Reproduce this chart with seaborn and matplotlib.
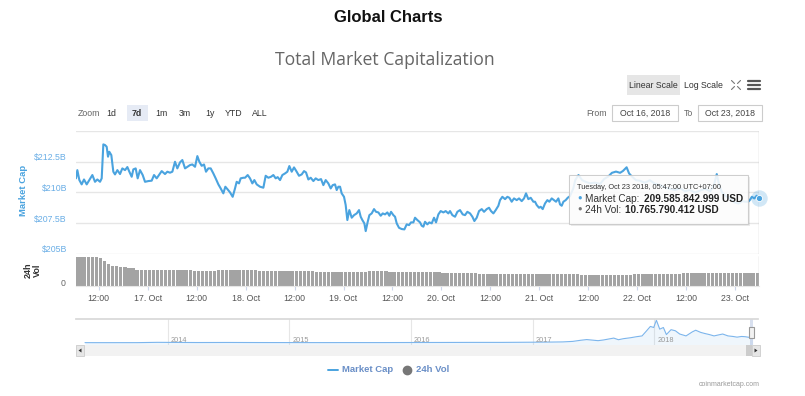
import matplotlib
matplotlib.use("Agg")
import matplotlib.pyplot as plt
import matplotlib.dates as mdates
import matplotlib.transforms as mtransforms
from matplotlib import font_manager
from matplotlib.patches import Rectangle, Polygon
from matplotlib.lines import Line2D
from matplotlib.text import Annotation
import pandas as pd
import seaborn as sns

# ==========================================
# DATA
# ==========================================
START = pd.Timestamp("2018-10-16 00:00")

# market cap: hours after Oct 16 00:00 -> billions USD
cap_hours = [
    6.42, 6.75, 7.24, 7.81, 8.38, 9.04, 9.69, 10.43, 11.08, 11.65,
    12.31, 12.72, 13.12, 13.53, 13.94, 14.27, 14.59, 15.08, 15.57, 15.98,
    16.56, 17.21, 17.78, 18.44, 19.01, 19.50, 20.07, 20.48, 21.05, 21.54,
    22.11, 22.77, 23.34, 24.16, 24.97, 25.55, 26.20, 26.77, 27.43, 28.24,
    28.81, 29.47, 30.04, 30.69, 31.26, 31.92, 32.49, 33.15, 33.72, 34.37,
    34.94, 35.60, 36.17, 36.66, 37.23, 37.80, 38.29, 38.87, 39.44, 40.09,
    40.66, 41.32, 41.89, 42.54, 43.03, 43.52, 44.18, 44.83, 45.40, 45.81,
    46.38, 46.79, 47.45,
    47.86, 48.51, 49.08, 49.65, 50.14, 50.72, 51.53, 52.35, 52.92, 53.57,
    54.23, 54.80, 55.37, 55.86, 56.44, 57.01, 57.66, 58.23, 58.72, 59.30,
    59.87, 60.52, 61.09, 61.75, 62.32, 62.81, 63.38, 63.96, 64.61, 65.18,
    65.83, 66.49, 67.06, 67.63, 68.28, 68.86, 69.35, 69.92, 70.33, 70.74,
    71.15, 71.55, 72.12, 72.53, 72.94, 73.43, 74.01, 74.58, 75.23, 75.80,
    76.21, 76.62, 77.11, 77.44, 77.93, 78.34, 78.91, 79.48, 79.97, 80.54,
    81.12, 81.61, 82.18, 82.75, 83.24, 83.65, 84.22, 84.63, 85.04, 85.61,
    86.26, 86.92, 87.49, 88.06, 88.55, 89.13, 89.53, 90.10,
    90.76, 91.17, 91.58, 91.98, 92.55, 93.04, 93.62, 94.19, 94.68, 95.25,
    95.82, 96.48, 97.05, 97.70, 98.11, 98.68, 99.34, 99.91, 100.56, 101.22,
    101.79, 102.36, 103.02, 103.59, 104.08, 104.65, 105.22, 105.88, 106.45, 107.10,
    107.67, 108.16, 108.74, 109.31, 109.96, 110.37, 110.94, 111.60, 112.17, 112.66,
    113.23, 113.80, 114.46, 115.03, 115.68, 116.25, 116.74, 117.31, 117.89, 118.54,
    118.95, 119.36, 119.93, 120.34, 120.83, 121.40, 121.97, 122.46, 123.04, 123.61,
    124.10, 124.67, 125.08, 125.49, 125.90, 126.47, 126.96,
    127.5, 128.3, 128.8, 129.6, 130.5, 131.5, 132.4, 133.6, 134.9, 135.9,
    136.9, 137.8, 138.8, 139.8, 140.5, 141.4, 142.0, 142.7, 143.7, 144.7,
    145.9, 147.1, 148.4, 149.6, 150.8, 152.0, 153.3, 154.5, 155.7, 156.9,
    158.2, 159.4, 160.6, 161.9, 162.8, 163.5, 164.1, 164.8, 165.8, 166.8,
    167.8, 168.8, 169.8, 170.4, 171.2, 171.6, 172.1, 172.7, 173.3, 173.78,
]
cap_values = [
    211.15, 211.82, 211.01, 210.66, 211.06, 210.66, 211.01, 211.42, 210.87, 211.06,
    210.87, 211.15, 213.91, 213.86, 213.72, 212.91, 213.31, 213.04, 211.69, 211.47,
    211.82, 211.50, 211.96, 211.82, 212.07, 211.69, 211.28, 211.88, 211.96, 211.15,
    211.82, 211.42, 210.87, 210.93, 210.96, 211.42, 211.15, 211.42, 211.74, 211.50,
    211.69, 211.61, 211.69, 212.50, 211.96, 212.45, 212.64, 211.96, 212.09, 212.23,
    212.28, 212.09, 212.96, 212.50, 212.17, 212.28, 211.69, 211.96, 211.96, 211.55,
    211.15, 210.66, 210.33, 209.93, 210.47, 210.28, 210.01, 209.65, 210.33, 210.87,
    210.74, 211.15, 211.20,
    211.20, 211.42, 211.15, 210.74, 211.01, 210.66, 210.47, 210.39, 211.36, 211.20,
    211.28, 211.42, 211.15, 211.25, 211.01, 211.42, 211.55, 211.69, 212.15, 211.69,
    212.04, 211.69, 211.36, 211.47, 211.74, 211.63, 211.06, 211.20, 210.93, 211.15,
    211.01, 211.09, 210.60, 211.01, 210.74, 210.33, 210.60, 210.66, 210.20, 210.47,
    210.47, 209.93, 209.65, 208.98, 207.76, 208.57, 207.95, 208.16, 208.30, 208.57,
    208.03, 207.76, 207.49, 206.86, 207.62, 208.16, 208.30, 208.65, 208.43, 208.38,
    208.11, 208.30, 208.22, 208.38, 208.11, 208.43, 208.16, 208.03, 207.49, 207.13,
    207.03, 207.00, 207.41, 207.35, 207.57, 207.57, 207.95, 207.76,
    207.57, 207.30, 207.22, 207.62, 207.41, 207.57, 207.49, 207.95, 207.57, 208.22,
    208.49, 208.38, 208.49, 208.30, 208.49, 208.16, 208.03, 208.43, 208.57, 208.22,
    208.16, 208.43, 208.30, 208.03, 207.68, 207.95, 208.49, 208.65, 208.43, 208.65,
    208.76, 208.49, 208.30, 208.57, 208.92, 209.38, 209.65, 209.46, 209.65, 209.57,
    209.25, 209.52, 209.38, 209.52, 209.30, 209.52, 209.93, 209.46, 209.57, 209.25,
    209.25, 208.98, 208.76, 208.84, 208.65, 209.11, 209.38, 209.25, 209.52, 209.38,
    209.25, 209.52, 209.03, 208.92, 209.25, 209.38, 209.57,
    209.70, 210.30, 211.00, 211.42, 211.00, 210.85, 210.75, 210.80, 210.70, 211.10,
    211.30, 211.60, 211.70, 211.60, 211.75, 212.05, 211.55, 211.30, 211.00, 210.95,
    210.80, 211.00, 210.70, 210.60, 210.40, 210.30, 210.20, 210.35, 210.10, 210.20,
    210.00, 210.15, 210.30, 210.10, 210.60, 211.50, 210.60, 210.00, 209.70, 209.50,
    209.20, 209.10, 209.30, 209.25, 209.25, 209.38, 209.65, 209.52, 209.74, 209.59,
]

# 24h volume bars, one per hour (billions USD)
vol_hours = list(range(6, 174))
vol_values = [
    23.5, 23.5, 23.4, 23.5, 23.4, 23.3, 23.0, 20.5, 17.8, 16.6, 16.0, 15.5,
    15.1, 14.8, 14.5, 13.0, 12.8, 12.7, 12.7, 12.6, 12.7, 12.7, 12.8, 12.7,
    12.6, 12.6, 12.7, 12.7, 12.6, 12.5, 11.9, 11.9, 11.9, 11.9, 11.9, 12.6,
    12.7, 12.7, 12.8, 12.8, 12.7, 12.7, 12.6, 12.6, 12.6, 12.5, 12.5, 12.4,
    12.4, 12.3, 12.2, 12.1, 12.2, 12.1, 12.0, 12.0, 11.9, 11.8, 11.8, 11.4,
    11.4, 11.3, 11.3, 11.4, 11.3, 11.3, 11.2, 11.3, 11.3, 11.4, 11.3, 11.3,
    11.9, 11.9, 11.9, 11.8, 11.9, 11.3, 11.3, 11.3, 11.2, 11.3, 11.3, 11.3,
    11.3, 11.2, 11.3, 11.3, 11.3, 11.3, 10.8, 10.8, 10.8, 10.8, 10.8, 10.8,
    10.8, 10.8, 10.8, 10.1, 10.1, 10.1, 10.0, 10.1, 10.1, 10.1, 10.0, 10.1,
    10.1, 10.1, 10.0, 10.0, 10.0, 10.0, 10.0, 10.0, 10.0, 10.0, 10.0, 10.0,
    10.0, 10.0, 10.0, 10.0, 9.3, 9.3, 9.3, 9.3, 9.3, 9.3, 9.3, 9.3,
    9.3, 9.3, 9.3, 9.3, 9.3, 9.4, 9.4, 9.4, 9.4, 9.4, 9.4, 9.4,
    9.4, 9.4, 9.4, 9.4, 9.4, 10.6, 10.6, 10.7, 10.7, 10.6, 10.7, 10.7,
    10.8, 10.8, 10.7, 10.7, 10.8, 10.8, 10.8, 10.7, 10.8, 10.8, 10.8, 10.77,
]

# navigator: whole history of total market cap (billions USD)
nav_dates = [
    "2013-04-28", "2013-07-01", "2013-10-01", "2013-12-01", "2014-01-01",
    "2014-04-01", "2014-07-01", "2014-10-01", "2015-01-01", "2015-04-01",
    "2015-07-01", "2015-10-01", "2016-01-01", "2016-04-01", "2016-07-01",
    "2016-10-01", "2017-01-01", "2017-03-01", "2017-04-01", "2017-05-01",
    "2017-05-25", "2017-06-12", "2017-07-16", "2017-08-01", "2017-09-01",
    "2017-09-15", "2017-10-01", "2017-10-20", "2017-11-08", "2017-11-25",
    "2017-12-08", "2017-12-20", "2017-12-30", "2018-01-07", "2018-01-17",
    "2018-01-28", "2018-02-06", "2018-02-20", "2018-03-05", "2018-03-18",
    "2018-04-06", "2018-04-25", "2018-05-05", "2018-05-20", "2018-06-01",
    "2018-06-15", "2018-06-29", "2018-07-10", "2018-07-25", "2018-08-10",
    "2018-08-25", "2018-09-06", "2018-09-20", "2018-10-01", "2018-10-11",
    "2018-10-23",
]
nav_values = [
    1.5, 1.1, 2.0, 13, 11,
    6, 8.5, 5.5, 4.5, 3.5,
    4.5, 4.2, 7, 8.5, 11,
    11, 18, 24, 29, 48,
    90, 115, 75, 100, 170,
    110, 150, 180, 220, 250,
    430, 600, 560, 830, 500,
    560, 300, 480, 440, 320,
    250, 400, 460, 380, 340,
    300, 250, 280, 320, 250,
    230, 205, 230, 220, 200,
    210,
]

price_ticks = [205, 207.5, 210, 212.5, 215]
price_labels = ["$205B", "$207.5B", "$210B", "$212.5B", ""]
nav_years = [2014, 2015, 2016, 2017, 2018]
zoom_buttons = ["1d", "7d", "1m", "3m", "1y", "YTD", "ALL"]
zoom_button_x = [111, 137, 161, 185, 210, 234, 260]
tooltip_title = "Tuesday, Oct 23 2018, 05:47:00 UTC+07:00"
tooltip_cap = "209.585.842.999 USD"
tooltip_vol = "10.765.790.412 USD"

# ==========================================
# STYLE
# ==========================================
W, H = 805, 396
BLUE = "#4aa3df"
LABEL_BLUE = "#6aaee6"
GRID = "#e6e6e6"

sns.set_theme(style="white")
names = {f.name for f in font_manager.fontManager.ttflist}
NARROW = "Liberation Sans Narrow" if "Liberation Sans Narrow" in names else "Liberation Sans"
plt.rcParams["font.family"] = [NARROW, "DejaVu Sans"]


def frect(x0, y0, x1, y1):
    """pixel box (top-left origin) -> figure fraction rect"""
    return [x0 / W, 1 - y1 / H, (x1 - x0) / W, (y1 - y0) / H]


def fpt(x, y):
    return x / W, 1 - y / H


fig = plt.figure(figsize=(W / 100, H / 100), dpi=100)
fig.patch.set_facecolor("white")

# ==========================================
# HEADER
# ==========================================
fig.text(*fpt(388, 17), "Global Charts", ha="center", va="center",
         fontsize=12, fontweight="bold", color="#111111", family="Liberation Sans")
fig.text(*fpt(385, 60), "Total Market Capitalization", ha="center", va="center",
         fontsize=12.7, color="#666666", family="Open Sans")

fig.patches.append(Rectangle(fpt(627, 95), 53 / W, 20 / H, transform=fig.transFigure,
                             fc="#e6e6e6", ec="none"))
fig.text(*fpt(653, 85), "Linear Scale", ha="center", va="center", fontsize=6.3, color="#333333")
fig.text(*fpt(703, 85), "Log Scale", ha="center", va="center", fontsize=6.3, color="#333333")
for dx, dy in [(-1, -1), (1, -1), (-1, 1), (1, 1)]:
    fig.lines.append(Line2D([(736 + 1.5 * dx) / W, (736 + 4.5 * dx) / W],
                            [1 - (85 + 1.5 * dy) / H, 1 - (85 + 4.5 * dy) / H],
                            transform=fig.transFigure, color="#777777", lw=0.8))
for yy in [81, 85, 89]:
    fig.lines.append(Line2D([748 / W, 760 / W], [1 - yy / H, 1 - yy / H],
                            transform=fig.transFigure, color="#555555", lw=1.6))

fig.text(*fpt(78, 113), "Zoom", ha="left", va="center", fontsize=6.3, color="#666666")
fig.patches.append(Rectangle(fpt(127, 121), 21 / W, 16 / H, transform=fig.transFigure,
                             fc="#e6ebf5", ec="none"))
for lab, bx in zip(zoom_buttons, zoom_button_x):
    fig.text(*fpt(bx, 113), lab, ha="center", va="center", fontsize=6.3, color="#333333",
             fontweight="bold" if lab == "7d" else "normal")

fig.text(*fpt(607, 113), "From", ha="right", va="center", fontsize=6.3, color="#666666")
fig.text(*fpt(684, 113), "To", ha="left", va="center", fontsize=6.3, color="#666666")
for x0, x1, lab in [(612, 678, "Oct 16, 2018"), (698, 762, "Oct 23, 2018")]:
    fig.patches.append(Rectangle(fpt(x0, 121), (x1 - x0) / W, 16 / H, transform=fig.transFigure,
                                 fc="white", ec="#cccccc", lw=0.8))
    fig.text(*fpt((x0 + x1) / 2, 113), lab, ha="center", va="center", fontsize=6.3, color="#444444")

# ==========================================
# PRICE PANE
# ==========================================
cap = pd.DataFrame({"time": START + pd.to_timedelta(cap_hours, unit="h"), "cap": cap_values})
t0 = mdates.date2num(cap["time"].iloc[0])
t1 = mdates.date2num(cap["time"].iloc[-1])

ax = fig.add_axes(frect(76, 131, 758.7, 254))
sns.lineplot(data=cap, x="time", y="cap", ax=ax, color=BLUE, linewidth=1.5)
ax.set_xlim(t0, t1)
ax.set_ylim(205, 215)
ax.set_yticks(price_ticks)
ax.set_yticklabels([])
ax.set_xticks([])
ax.tick_params(length=0)
ax.grid(axis="y", color=GRID, lw=1)
ax.set_xlabel("")
ax.set_ylabel("")
for s in ax.spines.values():
    s.set_visible(False)

lab_tr = mtransforms.offset_copy(ax.get_yaxis_transform(), fig=fig, x=-9, y=4, units="dots")
for v, lab in zip(price_ticks, price_labels):
    ax.text(0, v, lab, transform=lab_tr, ha="right", va="center", fontsize=6.3, color=LABEL_BLUE)

fig.text(*fpt(23, 190), "Market Cap", rotation=90, ha="center", va="center",
         fontsize=6.8, fontweight="bold", color=BLUE)

# crosshair + hovered point
ax.axvline(t1, color="#cccccc", lw=1)
ax.scatter([t1], [cap_values[-1]], s=140, color=BLUE, alpha=0.25, lw=0, zorder=5, clip_on=False)
ax.scatter([t1], [cap_values[-1]], s=20, color=BLUE, lw=0.6, edgecolor="white", zorder=6, clip_on=False)

# ==========================================
# VOLUME PANE
# ==========================================
vol_times = mdates.date2num(START + pd.to_timedelta(vol_hours, unit="h"))
axv = fig.add_axes(frect(76, 256, 758.7, 286))
axv.bar(vol_times, vol_values, width=0.8 / 24, align="edge", color="#a3a3a3", linewidth=0)
axv.axvline(t1, color="#cccccc", lw=1)
axv.set_xlim(t0, t1)
axv.set_ylim(0, 24.3)
axv.set_yticks([])
axv.xaxis_date()
axv.xaxis.set_major_locator(mdates.HourLocator(byhour=[0, 12]))


def fmt_tick(x, pos):
    d = mdates.num2date(x)
    return "12:00" if d.hour == 12 else f"{d.day}. Oct"


axv.xaxis.set_major_formatter(plt.FuncFormatter(fmt_tick))
axv.tick_params(axis="x", length=3, width=0.8, color="#ccd6eb", labelsize=6.3,
                labelcolor="#555555", pad=2.5, bottom=True)
for s in ["top", "left", "right"]:
    axv.spines[s].set_visible(False)
axv.spines["bottom"].set_color("#e6e6e6")
axv.spines["bottom"].set_linewidth(0.8)

fig.text(*fpt(65, 283), "0", ha="right", va="center", fontsize=6.3, color="#666666")
fig.text(*fpt(33, 270), "24h\nVol", rotation=90, ha="center", va="center",
         fontsize=6.5, fontweight="bold", color="#333333", linespacing=1.0)

# ==========================================
# NAVIGATOR + SCROLLBAR
# ==========================================
nav_dt = pd.to_datetime(nav_dates)
axn = fig.add_axes(frect(76, 319, 758, 345))
sns.lineplot(x=nav_dt, y=nav_values, ax=axn, color="#7cb5ec", linewidth=0.8)
axn.fill_between(mdates.date2num(nav_dt), nav_values, -85, color="#7cb5ec", alpha=0.12, lw=0)
axn.set_xlim(mdates.date2num(pd.Timestamp("2013-04-01")), mdates.date2num(pd.Timestamp("2018-11-08")))
axn.set_ylim(-85, 874)
axn.set_xticks([])
axn.set_yticks([])
axn.set_xlabel("")
axn.set_ylabel("")
for s in axn.spines.values():
    s.set_visible(False)
axn.spines["top"].set_visible(True)
axn.spines["top"].set_color("#d8d8d8")
yr_tr = mtransforms.offset_copy(axn.get_xaxis_transform(), fig=fig, x=3, y=0, units="dots")
for yr in nav_years:
    d = mdates.date2num(pd.Timestamp(f"{yr}-01-01"))
    axn.axvline(d, color=GRID, lw=0.8, zorder=0)
    axn.text(d, 0.19, str(yr), transform=yr_tr, ha="left", va="center", fontsize=5.3, color="#999999")
# selected range mask and handle
axn.axvspan(mdates.date2num(pd.Timestamp("2018-10-16")), t1, color="#6685c2", alpha=0.25, lw=0)
fig.patches.append(Rectangle(fpt(749, 338), 5 / W, 11 / H, transform=fig.transFigure,
                             fc="#f2f2f2", ec="#999999", lw=0.8, zorder=6))

fig.patches.append(Rectangle(fpt(76, 356), 684 / W, 11 / H, transform=fig.transFigure,
                             fc="#f2f2f2", ec="none"))
fig.patches.append(Rectangle(fpt(746, 356), 6 / W, 11 / H, transform=fig.transFigure,
                             fc="#cccccc", ec="none"))
for bx0, pts in [(76, [(81.5, 348.5), (81.5, 352.5), (78.5, 350.5)]),
                 (752, [(754.5, 348.5), (754.5, 352.5), (757.5, 350.5)])]:
    fig.patches.append(Rectangle(fpt(bx0, 356), 8 / W, 11 / H, transform=fig.transFigure,
                                 fc="#e6e6e6", ec="#cccccc", lw=0.6))
    fig.patches.append(Polygon([fpt(px, py) for px, py in pts], closed=True,
                               transform=fig.transFigure, fc="#333333", ec="none"))

# ==========================================
# LEGEND + CREDITS
# ==========================================
fig.lines.append(Line2D([328 / W, 338 / W], [1 - 370 / H, 1 - 370 / H],
                        transform=fig.transFigure, color=BLUE, lw=1.4))
fig.text(*fpt(342, 370), "Market Cap", ha="left", va="center", fontsize=6.8,
         fontweight="bold", color="#6a8fc7")
fig.lines.append(Line2D([407 / W], [1 - 370 / H], transform=fig.transFigure, marker="o",
                        markersize=6, color="#777777", lw=0))
fig.text(*fpt(416, 370), "24h Vol", ha="left", va="center", fontsize=6.8,
         fontweight="bold", color="#6a8fc7")
fig.text(*fpt(760, 385), "coinmarketcap.com", ha="right", va="center", fontsize=5,
         color="#999999")

# ==========================================
# TOOLTIP
# ==========================================
fig.patches.append(Rectangle(fpt(571, 226), 179 / W, 49 / H, transform=fig.transFigure,
                             fc="#000000", alpha=0.08, ec="none", zorder=4))
fig.patches.append(Rectangle(fpt(569, 224.3), 178.7 / W, 49.3 / H, transform=fig.transFigure,
                             fc="white", alpha=0.88, ec="#c8c8c8", lw=0.8, zorder=5))
fig.text(*fpt(576.5, 188), tooltip_title, ha="left", va="center", fontsize=5.3,
         color="#333333", zorder=6)
for yy, dot_col, name, value in [(198.5, BLUE, "Market Cap:", tooltip_cap),
                                 (209.5, "#777777", "24h Vol:", tooltip_vol)]:
    fig.text(*fpt(580, yy), "●", ha="center", va="center", fontsize=5.5, color=dot_col, zorder=6)
    name_txt = fig.text(*fpt(585, yy), name, ha="left", va="center", fontsize=7.2,
                        color="#333333", zorder=6)
    val = Annotation(value, xy=(1, 0.5), xycoords=name_txt, xytext=(3, 0),
                     textcoords="offset points", ha="left", va="center", fontsize=7.2,
                     fontweight="bold", color="#222222", zorder=6)
    fig.add_artist(val)

fig.savefig("out.png", dpi=100)
